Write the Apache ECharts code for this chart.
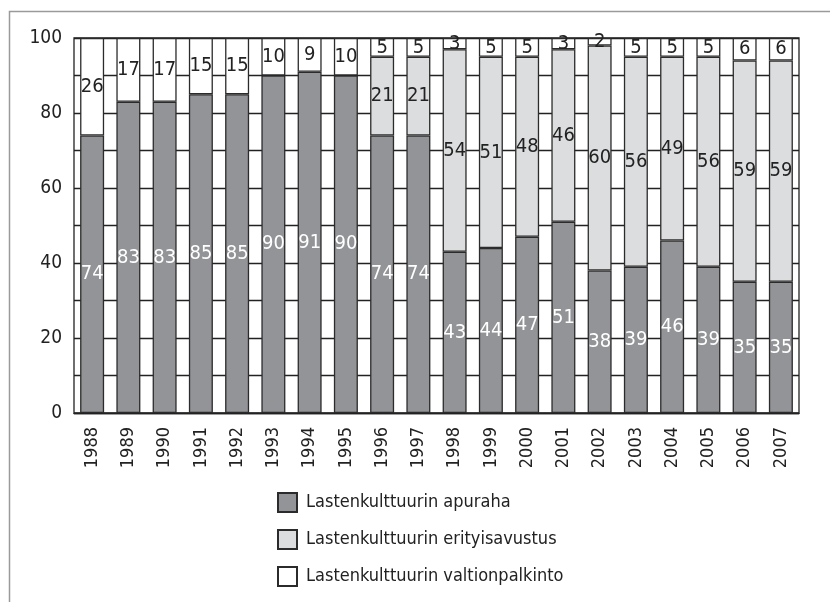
<!DOCTYPE html>
<html>
<head>
<meta charset="utf-8">
<script src="https://cdn.jsdelivr.net/npm/echarts@6/dist/echarts.min.js"></script>
<style>
html, body { margin: 0; padding: 0; background: #fff; }
#chart { width: 830px; height: 602px; }
</style>
</head>
<body>
<div id="chart"></div>
<script>
var years = ['1988','1989','1990','1991','1992','1993','1994','1995','1996','1997',
             '1998','1999','2000','2001','2002','2003','2004','2005','2006','2007'];
var apuraha = [74, 83, 83, 85, 85, 90, 91, 90, 74, 74, 43, 44, 47, 51, 38, 39, 46, 39, 35, 35];
var erityisavustus = [null, null, null, null, null, null, null, null, 21, 21, 54, 51, 48, 46, 60, 56, 49, 56, 59, 59];
var valtionpalkinto = [26, 17, 17, 15, 15, 10, 9, 10, 5, 5, 3, 5, 5, 3, 2, 5, 5, 5, 6, 6];
var yTicks = [0, 20, 40, 60, 80, 100];

var font = "'Liberation Sans Narrow', 'DejaVu Sans Condensed', Arial, sans-serif";

var dom = document.getElementById('chart');
var myChart = echarts.init(dom);

function barSeries(name, data, color, labelColor) {
    return {
        name: name,
        type: 'bar',
        stack: 'total',
        barWidth: 24,
        data: data,
        itemStyle: { color: color, borderColor: '#2b2b2b', borderWidth: 1.3 },
        label: {
            show: true,
            position: 'inside',
            color: labelColor,
            fontFamily: font,
            fontSize: 20
        },
        emphasis: { disabled: true }
    };
}

var option = {
    animation: false,
    textStyle: { fontFamily: font },
    graphic: [{
        type: 'rect',
        shape: { x: 9.5, y: 11.5, width: 840, height: 620 },
        style: { fill: 'none', stroke: '#9a9a9a', lineWidth: 1.5 },
        silent: true
    }],
    grid: {
        left: 74, right: 31, top: 38, bottom: 189,
        show: true, borderColor: '#222', borderWidth: 1.3, backgroundColor: 'transparent'
    },
    legend: {
        orient: 'vertical',
        left: 272, top: 487,
        itemWidth: 19, itemHeight: 19, itemGap: 16,
        icon: 'rect',
        textStyle: { fontFamily: font, fontSize: 18, color: '#222', padding: [0, 0, 0, 4] },
        data: ['Lastenkulttuurin apuraha', 'Lastenkulttuurin erityisavustus', 'Lastenkulttuurin valtionpalkinto']
    },
    xAxis: {
        type: 'category',
        data: years,
        axisLine: { show: true, lineStyle: { color: '#222', width: 1.3 } },
        axisTick: { show: false },
        axisLabel: { rotate: 90, fontFamily: font, fontSize: 18, color: '#222', margin: 14 }
    },
    yAxis: {
        type: 'value',
        min: 0, max: 100, interval: 10,
        axisLine: { show: false },
        axisTick: { show: false },
        splitLine: { show: true, lineStyle: { color: '#222', width: 1.3 } },
        axisLabel: {
            fontFamily: font, fontSize: 19, color: '#222', margin: 12,
            formatter: function (v) { return yTicks.indexOf(v) >= 0 ? String(v) : ''; }
        }
    },
    series: [
        barSeries('Lastenkulttuurin apuraha', apuraha, '#939497', '#ffffff'),
        barSeries('Lastenkulttuurin erityisavustus', erityisavustus, '#dcdddf', '#222'),
        barSeries('Lastenkulttuurin valtionpalkinto', valtionpalkinto, '#ffffff', '#222')
    ]
};

myChart.setOption(option, true);
</script>
</body>
</html>
